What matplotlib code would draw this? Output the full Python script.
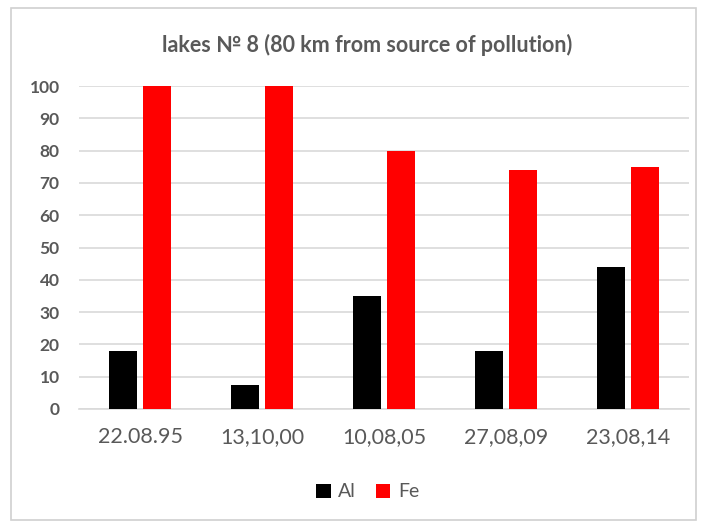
import matplotlib.pyplot as plt
import numpy as np
from matplotlib.patches import Rectangle

plt.rcParams['font.family'] = ['Lato', 'DejaVu Sans']

dates = ['22.08.95', '13,10,00', '10,08,05', '27,08,09', '23,08,14']
al = [18, 7.5, 35, 18, 44]
fe = [100, 100, 80, 74, 75]

text_color = '#595959'

fig = plt.figure(figsize=(7.03, 5.25), dpi=100)
ax = fig.add_axes([0.1124, 0.221, 0.8676, 0.615])

x = np.arange(len(dates))
w = 0.23
ax.bar(x - 0.142, al, width=w, color='black', label='Al', zorder=3)
ax.bar(x + 0.142, fe, width=w, color='#ff0000', label='Fe', zorder=3)

ax.set_xlim(-0.5, len(dates) - 0.5)
ax.set_ylim(0, 100)
ax.set_yticks(range(0, 101, 10))
ax.set_xticks(x)
ax.set_xticklabels(dates, fontsize=15.5, color=text_color)
ax.tick_params(axis='y', labelsize=12.5, labelcolor=text_color, length=0, pad=14)
for lab in ax.get_yticklabels():
    lab.set_fontweight('bold')
ax.tick_params(axis='x', length=0, pad=13)
ax.grid(axis='y', color='#d9d9d9', linewidth=1.2, zorder=0)
for s in ['top', 'right', 'left']:
    ax.spines[s].set_visible(False)
ax.spines['bottom'].set_color('#d9d9d9')
ax.spines['bottom'].set_linewidth(1.2)

fig.text(0.522, 0.914, 'lakes № 8 (80 km from source of pollution)',
         ha='center', va='center', fontsize=15.5, fontweight='bold', color=text_color)

leg = fig.legend(loc='center', bbox_to_anchor=(0.523, 0.063), ncol=2, frameon=False,
                 fontsize=14, handlelength=0.75, handleheight=0.75, handletextpad=0.4,
                 columnspacing=1.0)
for t in leg.get_texts():
    t.set_color(text_color)

# thin frame around the whole chart
fig.patches.append(Rectangle((0.015, 0.01), 0.975, 0.975, transform=fig.transFigure,
                             fill=False, edgecolor='#d0d0d0', linewidth=1.2))

fig.savefig('out.png', dpi=100)
